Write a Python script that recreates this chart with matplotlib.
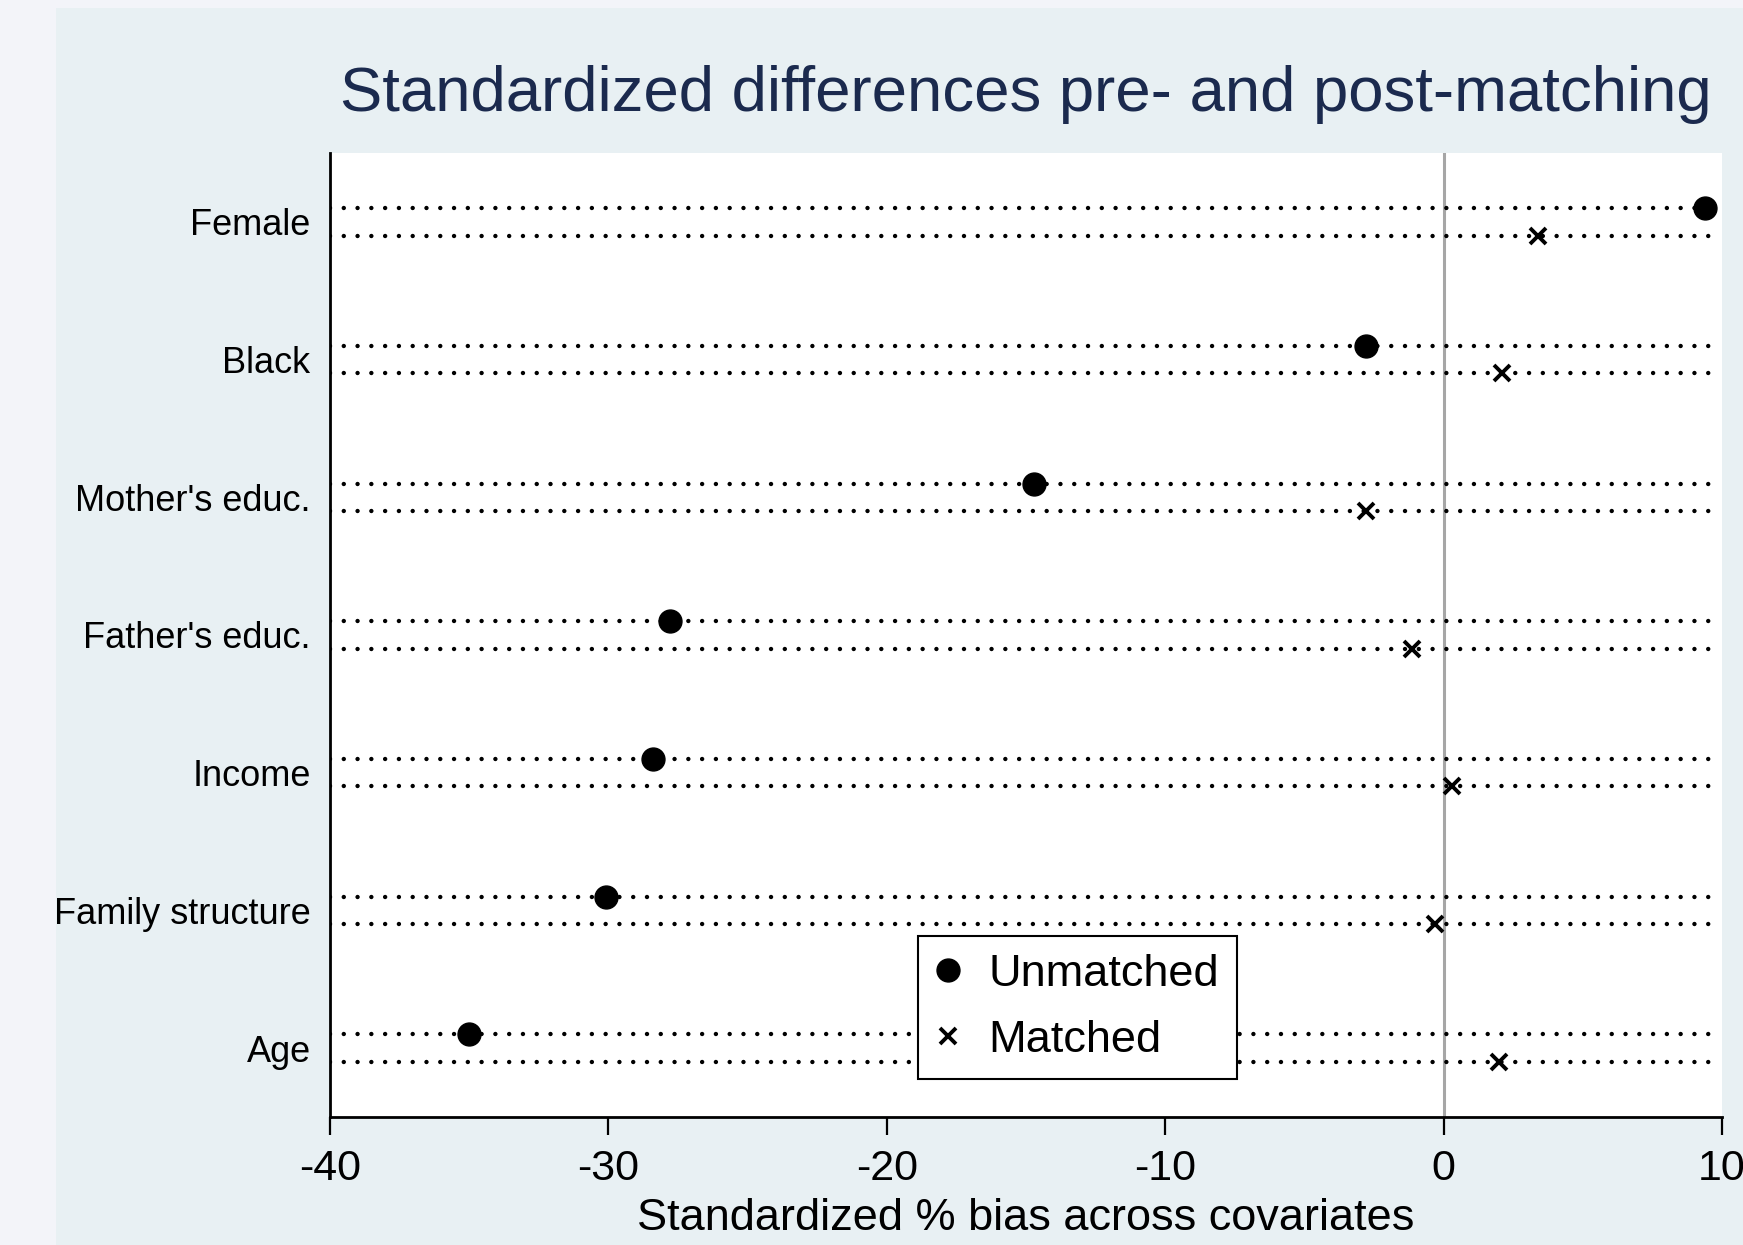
import numpy as np
import matplotlib
matplotlib.use('Agg')
import matplotlib.pyplot as plt
from matplotlib.patches import Rectangle

plt.rcParams['font.family'] = ['Liberation Sans', 'DejaVu Sans']

# covariates, bottom to top as drawn
covariates = ['Age', 'Family structure', 'Income', "Father's educ.",
              "Mother's educ.", 'Black', 'Female']
unmatched = [-35.0, -30.1, -28.4, -27.8, -14.7, -2.8, 9.4]
matched = [2.0, -0.3, 0.3, -1.15, -2.8, 2.1, 3.4]
xticks = [-40, -30, -20, -10, 0, 10]

W, H = 1743, 1245
fig = plt.figure(figsize=(W / 100, H / 100), dpi=100, facecolor='#f3f4f9')
# inner graph region
fig.patches.append(Rectangle((56 / W, 0), 1 - 56 / W, 1 - 8 / H,
                             transform=fig.transFigure, facecolor='#e8f0f3',
                             edgecolor='none', zorder=-5))

ax = fig.add_axes([330 / W, 1 - 1117 / H, 1392 / W, (1117 - 153) / H])
ax.set_zorder(2)
ax.set_facecolor('white')

ypos = np.arange(len(covariates))
off = 0.1

# dotted guide lines for each row
for y in ypos:
    for yy in (y + off, y - off):
        ax.axhline(yy, color='black', lw=3.2, linestyle=(0, (0.001, 3.1)),
                   dash_capstyle='round', zorder=1)

ax.axvline(0, color='#a6a6a6', lw=2.2, zorder=0.5)

ax.plot(unmatched, ypos + off, linestyle='none', marker='o', ms=16.5,
        color='black', label='Unmatched', zorder=3)
ax.plot(matched, ypos - off, linestyle='none', marker='x', ms=11, mew=2.8,
        color='black', label='Matched', zorder=3)

ax.set_xlim(-40, 10)
ax.set_ylim(-0.5, len(covariates) - 0.5)
ax.set_xticks(xticks)
ax.set_xticklabels([str(t) for t in xticks])
ax.set_yticks(ypos)
ax.set_yticklabels(covariates)

for s in ['top', 'right']:
    ax.spines[s].set_visible(False)
for s in ['left', 'bottom']:
    ax.spines[s].set_linewidth(2.0)
    ax.spines[s].set_zorder(4)
ax.tick_params(axis='x', length=13, width=1.6, direction='out', pad=10,
               labelsize=31)
ax.tick_params(axis='y', length=0, pad=14, labelsize=26)

leg = ax.legend(loc='lower left', bbox_to_anchor=(0.4227, 0.0394),
                borderaxespad=0, fontsize=32.5, frameon=True, fancybox=False,
                framealpha=1, edgecolor='black', handletextpad=0.65,
                labelspacing=0.55, handlelength=0.5, borderpad=0.4)
leg.get_frame().set_linewidth(1.5)
leg.set_zorder(5)

fig.text(1712 / W, 1 - 95 / H, 'Standardized differences pre- and post-matching',
         ha='right', va='center', fontsize=45.7, color='#1b2a4e')
fig.text(1026 / W, 1 - 1219 / H, 'Standardized % bias across covariates',
         ha='center', va='center', fontsize=32.5, color='black')

fig.savefig('out.png', dpi=100, facecolor=fig.get_facecolor())
